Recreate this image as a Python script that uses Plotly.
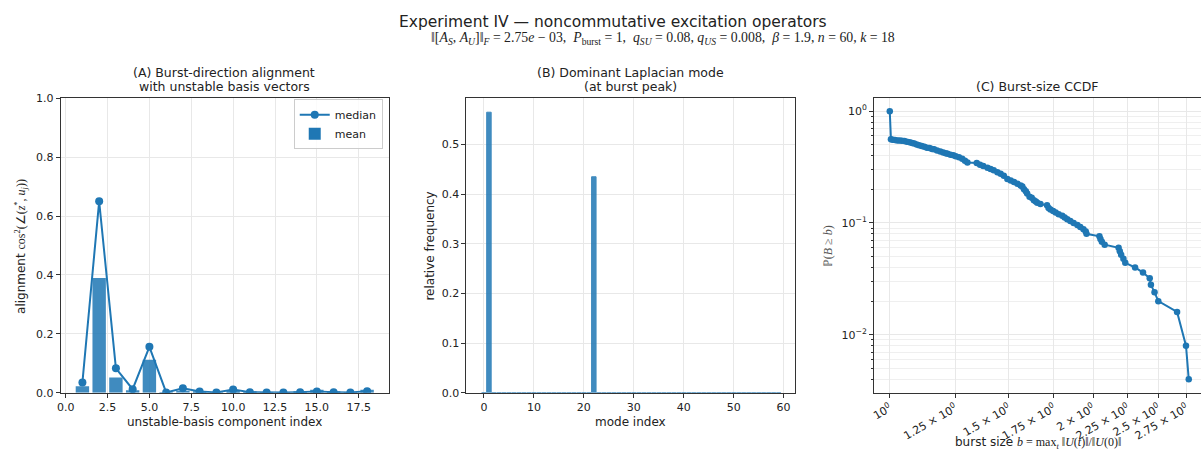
import plotly.graph_objects as go

# ---------------- data ----------------
comp_index = list(range(1, 19))
align_mean = [0.022, 0.390, 0.052, 0.008, 0.112, 0.001, 0.007, 0.003, 0.001, 0.006,
              0.002, 0.001, 0.001, 0.004, 0.010, 0.002, 0.001, 0.010]
align_median = [0.035, 0.650, 0.083, 0.012, 0.156, 0.001, 0.015, 0.004, 0.001, 0.011,
                0.002, 0.001, 0.001, 0.002, 0.004, 0.002, 0.001, 0.005]

mode_index = list(range(60))
mode_freq = [0.0] * 60
mode_freq[1] = 0.565
mode_freq[22] = 0.435

burst_b = [1.000, 1.004, 1.010, 1.018, 1.026, 1.034, 1.042, 1.051, 1.060, 1.070,
           1.079, 1.087, 1.096, 1.105, 1.115, 1.125, 1.135, 1.145, 1.155, 1.163,
           1.175, 1.188, 1.200, 1.210, 1.218, 1.230, 1.242, 1.252, 1.266, 1.280,
           1.292, 1.303, 1.345, 1.360, 1.375, 1.395, 1.410, 1.425, 1.443, 1.459,
           1.475, 1.493, 1.510, 1.527, 1.545, 1.562, 1.571, 1.580, 1.590, 1.597,
           1.610, 1.622, 1.634, 1.645, 1.653, 1.671, 1.709, 1.718, 1.729, 1.745,
           1.760, 1.778, 1.800, 1.815, 1.831, 1.850, 1.871, 1.895, 1.914, 1.935,
           1.950, 1.955, 2.043, 2.050, 2.060, 2.080, 2.181, 2.190, 2.200, 2.217,
           2.231, 2.307, 2.370, 2.425, 2.435, 2.465, 2.497, 2.662, 2.744, 2.770]
burst_p = [1.000, 0.560, 0.556, 0.552, 0.548, 0.546, 0.544, 0.540, 0.532, 0.528,
           0.520, 0.514, 0.504, 0.496, 0.488, 0.480, 0.472, 0.468, 0.460, 0.456,
           0.444, 0.436, 0.428, 0.420, 0.416, 0.408, 0.404, 0.396, 0.388, 0.376,
           0.360, 0.348, 0.344, 0.332, 0.324, 0.312, 0.304, 0.296, 0.284, 0.276,
           0.264, 0.248, 0.240, 0.232, 0.224, 0.216, 0.212, 0.200, 0.192, 0.184,
           0.172, 0.168, 0.160, 0.156, 0.152, 0.148, 0.144, 0.136, 0.132, 0.128,
           0.124, 0.120, 0.116, 0.112, 0.108, 0.104, 0.100, 0.096, 0.092, 0.088,
           0.084, 0.080, 0.076, 0.072, 0.068, 0.064, 0.060, 0.056, 0.052, 0.048,
           0.044, 0.040, 0.036, 0.032, 0.028, 0.024, 0.020, 0.016, 0.008, 0.004]

c_xtick_vals = [1.0, 1.25, 1.5, 1.75, 2.0, 2.25, 2.5, 2.75]
c_xtick_text = ["10<sup>0</sup>", "1.25 × 10<sup>0</sup>", "1.5 × 10<sup>0</sup>",
                "1.75 × 10<sup>0</sup>", "2 × 10<sup>0</sup>", "2.25 × 10<sup>0</sup>",
                "2.5 × 10<sup>0</sup>", "2.75 × 10<sup>0</sup>"]
c_ytick_vals = [1.0, 0.1, 0.01]
c_ytick_text = ["10<sup>0</sup>", "10<sup>−1</sup>", "10<sup>−2</sup>"]
c_yminor_vals = [m * 10.0 ** e for e in (-3, -2, -1) for m in range(2, 10)]

# ---------------- style ----------------
W, H = 1201, 459
BLUE = "#1f77b4"
GRID = "#e8e8e8"
SPINE = "#333333"
FONT = "DejaVu Sans"
SERIF = "Liberation Serif"
TXT = "#222222"


def px(x):
    return x / W


def py(y):
    return 1 - y / H


fig = go.Figure()

# Panel A
fig.add_trace(go.Scatter(x=comp_index, y=align_median, mode="lines+markers", name="median",
                         line=dict(color=BLUE, width=2), marker=dict(size=8, color=BLUE),
                         xaxis="x", yaxis="y"))
fig.add_trace(go.Bar(x=comp_index, y=align_mean, name="mean", width=0.8,
                     marker=dict(color=BLUE, opacity=0.85, line=dict(width=0)),
                     xaxis="x", yaxis="y"))
# Panel B
fig.add_trace(go.Bar(x=mode_index, y=mode_freq, width=0.9, showlegend=False,
                     marker=dict(color=BLUE, opacity=0.85, line=dict(width=1, color=BLUE)),
                     xaxis="x2", yaxis="y2"))
# Panel C
fig.add_trace(go.Scatter(x=burst_b, y=burst_p, mode="lines+markers", showlegend=False,
                         line=dict(color=BLUE, width=2), marker=dict(size=6.5, color=BLUE),
                         xaxis="x3", yaxis="y3"))

ydom = [py(398), py(95)]
common = dict(showline=True, linecolor=SPINE, linewidth=1, ticks="outside", ticklen=4,
              tickcolor=SPINE, gridcolor=GRID, gridwidth=1, zeroline=False,
              tickfont=dict(family=FONT, size=11, color=TXT))

fig.update_layout(
    width=W, height=H, margin=dict(l=0, r=0, t=0, b=0),
    paper_bgcolor="white", plot_bgcolor="white", barmode="overlay",
    font=dict(family=FONT, color=TXT),
    xaxis=dict(domain=[px(57), px(386)], range=[-0.29, 19.29], dtick=2.5, tick0=0,
               tickformat=".1f", anchor="y", mirror=True, **common),
    yaxis=dict(domain=ydom, range=[0, 1.0], dtick=0.2, tickformat=".1f", anchor="x",
               mirror=True, **common),
    xaxis2=dict(domain=[px(464), px(794)], range=[-3.5, 62.35], dtick=10, tick0=0,
                anchor="y2", mirror=True, **common),
    yaxis2=dict(domain=ydom, range=[0, 0.593], dtick=0.1, tickformat=".1f", anchor="x2",
                mirror=True, **common),
    xaxis3=dict(domain=[px(873), 1.0], type="log", range=[-0.0232, 0.4606],
                tickvals=c_xtick_vals, ticktext=c_xtick_text, tickangle=-30,
                anchor="y3", mirror=True, **common),
    yaxis3=dict(domain=ydom, type="log", range=[-2.518, 0.115], tickvals=c_ytick_vals,
                ticktext=c_ytick_text, anchor="x3", mirror=False,
                minor=dict(tickvals=c_yminor_vals, ticks="outside", ticklen=2,
                           tickcolor=SPINE, showgrid=True, gridcolor="#efefef"),
                **common),
    legend=dict(x=px(380), y=py(96), xanchor="right", yanchor="top",
                bordercolor="#cccccc", borderwidth=1, bgcolor="rgba(255,255,255,0.8)",
                font=dict(family=FONT, size=11, color=TXT), tracegroupgap=0,
                itemwidth=30),
)

ann = []


def text(x, y, s, size=12, angle=0, family=FONT, color=TXT):
    ann.append(dict(x=px(x), y=py(y), xref="paper", yref="paper", text=s, showarrow=False,
                    xanchor="center", yanchor="middle", textangle=angle,
                    font=dict(family=family, size=size, color=color)))


text(611, 16, "Experiment IV — noncommutative excitation operators", size=15.5)
text(661, 33, "‖[<i>A</i><sub><i>S</i></sub>, <i>A</i><sub><i>U</i></sub>]‖<sub><i>F</i></sub> = 2.75<i>e</i> − 03,  "
     "<i>P</i><sub>burst</sub> = 1,  <i>q</i><sub><i>SU</i></sub> = 0.08, <i>q</i><sub><i>US</i></sub> = 0.008,  "
     "<i>β</i> = 1.9, <i>n</i> = 60, <i>k</i> = 18", size=13.8, family=SERIF)

text(221, 68, "(A) Burst-direction alignment", size=12.5)
text(221, 83, "with unstable basis vectors", size=12.5)
text(629, 68, "(B) Dominant Laplacian mode", size=12.5)
text(629, 83, "(at burst peak)", size=12.5)
text(1037, 83, "(C) Burst-size CCDF", size=12.5)

text(221, 428, "unstable-basis component index", size=12)
text(629, 428, "mode index", size=12)
text(1037, 450, "burst size <span style='font-family:Liberation Serif'><i>b</i> = max<sub><i>t</i></sub> "
     "‖<i>U</i>(<i>t</i>)‖/‖<i>U</i>(0)‖</span>", size=12)

text(17, 247, "alignment <span style='font-family:Liberation Serif'>cos<sup>2</sup>(∠(<i>z</i><sup>*</sup>, "
     "<i>u</i><sub><i>j</i></sub>))</span>", size=12, angle=-90)
text(427, 247, "relative frequency", size=12, angle=-90)
text(827, 247, "ℙ(<i>B</i> ≥ <i>b</i>)", size=12, angle=-90, family=SERIF, color="#555555")

fig.update_layout(annotations=ann)
fig.write_html("out.html",
               post_script="document.body.style.margin='0';document.body.style.overflow='hidden';")
